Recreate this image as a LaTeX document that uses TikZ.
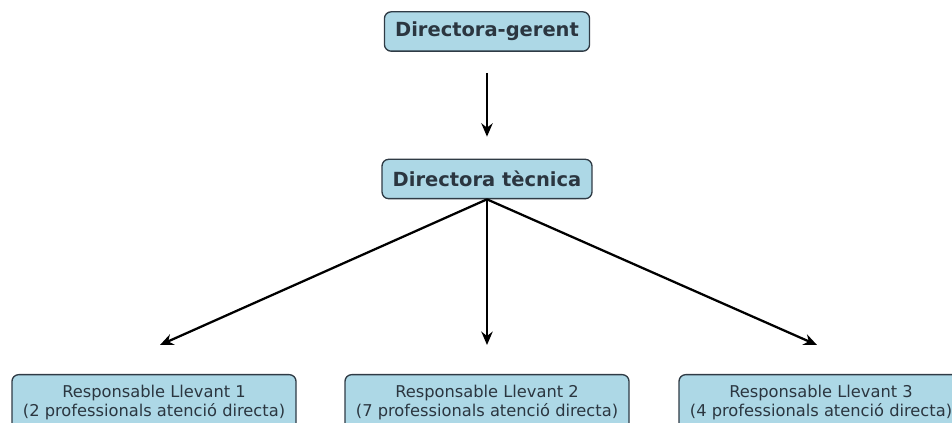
\documentclass[tikz,border=0pt]{standalone}
\usepackage{fontspec}
\setmainfont{DejaVu Sans}
\usetikzlibrary{arrows.meta}
\definecolor{boxfill}{HTML}{ADD8E6}
\definecolor{boxline}{HTML}{2F3B45}
\definecolor{boxtext}{HTML}{2B3640}
\tikzset{
  chief/.style={draw=boxline, fill=boxfill, rounded corners=5pt, line width=1pt,
    text=boxtext, font=\fontsize{14.6}{16}\selectfont\bfseries,
    minimum height=29.5pt, inner xsep=8pt},
  team/.style={draw=boxline, fill=boxfill, rounded corners=5pt, line width=1pt,
    text=boxtext, font=\fontsize{12.2}{14}\selectfont, align=center,
    minimum width=213pt, minimum height=42pt, inner ysep=1.5pt, anchor=north},
  link/.style={-{Stealth[length=10pt,width=8.5pt]}, line width=1.7pt}
}
\begin{document}
\begin{tikzpicture}[x=0.75pt, y=-0.75pt]
	\useasboundingbox (0,0) rectangle (952,423);
	\clip (0,0) rectangle (952,423);
	
	%top of the chart
	\node[chief] (gerent) at (487, 31.5) {Directora-gerent};
	\node[chief] (tecnica) at (487, 179) {Directora tècnica};
	\draw[link, shorten <=15.75pt, shorten >=16.5pt] (gerent) -- (tecnica);
	
	%three teams
	\foreach \x/\n/\p/\e in {154/1/2/160, 487/2/7/487, 821/3/4/817}{
		\node[team] (llevant\n) at (\x, 374) {Responsable Llevant \n\\(\p{} professionals atenció directa)};
		\coordinate (end\n) at (\e, 345);
		\draw[link] (tecnica.south) -- (end\n);
	}
\end{tikzpicture}
\end{document}
